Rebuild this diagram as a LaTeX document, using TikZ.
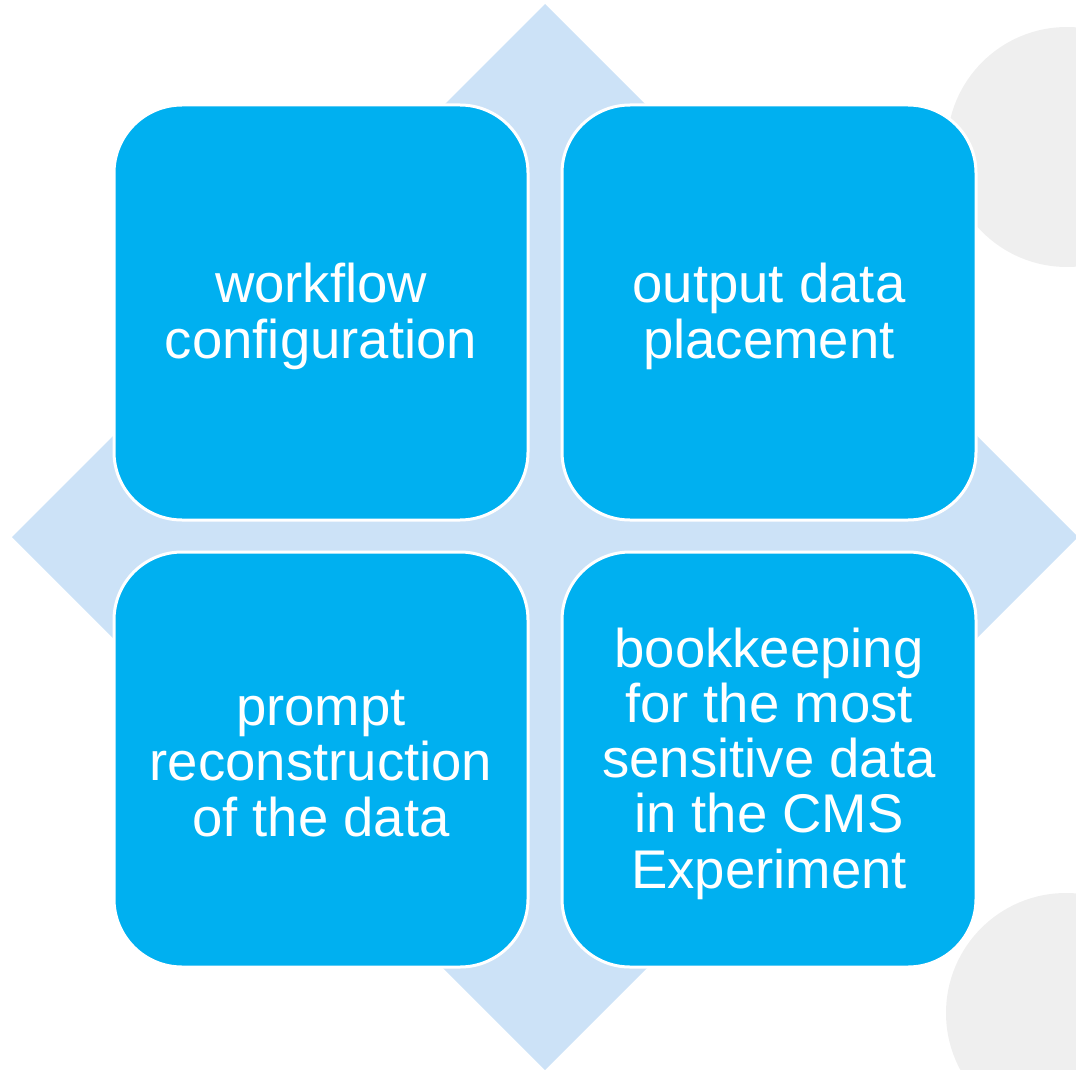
\documentclass[tikz,border=0pt]{standalone}
\usepackage{fontspec}
\setmainfont{Liberation Sans}
\definecolor{boxblue}{HTML}{00B0F0}
\definecolor{diamondblue}{HTML}{CCE2F7}
\definecolor{circlegray}{HTML}{EFEFEF}
\begin{document}
\begin{tikzpicture}[x=1pt,y=-1pt,
  quad/.style={draw=white,line width=3pt,fill=boxblue,rounded corners=68pt,
    minimum width=414pt,minimum height=415pt,inner sep=0pt},
  quadtext/.style={text=white,align=center,inner sep=0pt,
    font=\fontsize{54.5}{55.2}\selectfont}]
\useasboundingbox (0,0) rectangle (1076,1070);
\fill[circlegray] (1067,147) circle (120);
\fill[circlegray] (1066,1013) circle (120);
\fill[diamondblue] (545,4) -- (1078,537) -- (545,1070) -- (12,537) -- cycle;
\node[quad] (wf) at (321,312.5) {};
\node[quad] (od) at (769,312.5) {};
\node[quad] (pr) at (321,759.5) {};
\node[quad] (bk) at (769,759.5) {};
\node[quadtext] (wft) at ([yshift=-4pt]wf.center) {workflow\\configuration};
\node[quadtext] (odt) at ([yshift=-4pt]od.center) {output data\\placement};
\node[quadtext] (prt) at ([yshift=-4pt]pr.center) {prompt\\reconstruction\\of the data};
\node[quadtext] (bkt) at ([yshift=-4pt]bk.center) {bookkeeping\\for the most\\sensitive data\\in the CMS\\Experiment};
\end{tikzpicture}
\end{document}
